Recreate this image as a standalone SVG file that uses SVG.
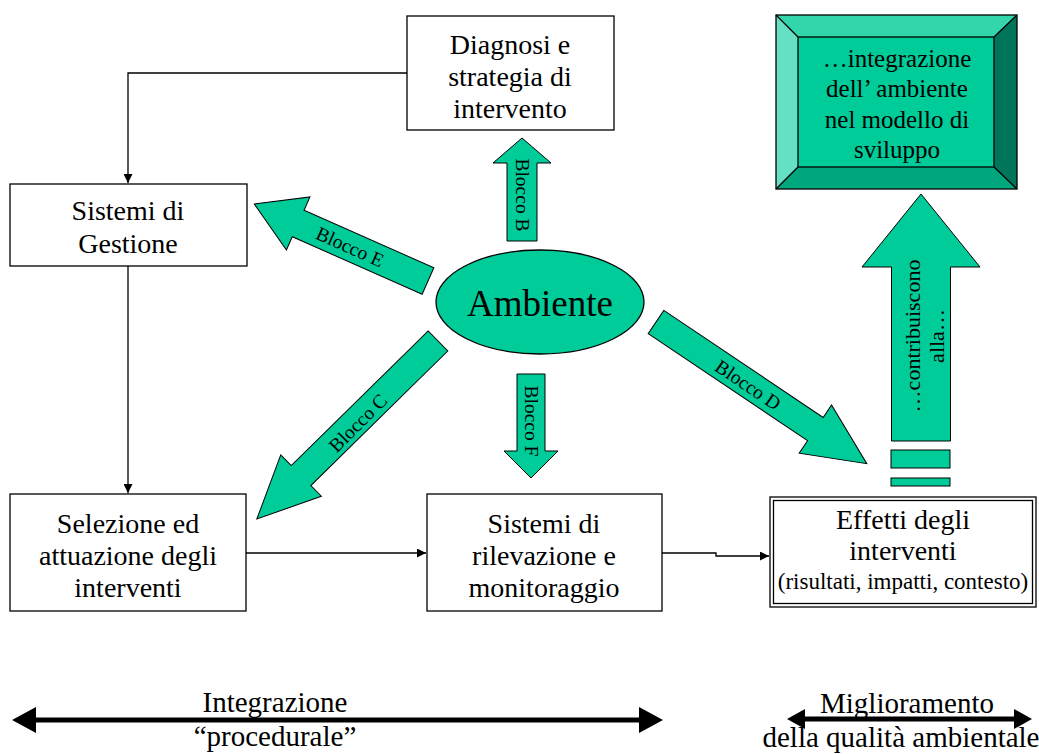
<svg xmlns="http://www.w3.org/2000/svg" width="1039" height="754" viewBox="0 0 1039 754">
  <defs>
    <style>
      text { font-family: "Liberation Serif", "Times New Roman", serif; fill: #000; }
      .box { fill: #fff; stroke: #000; stroke-width: 1.3; }
      .node { font-size: 28px; text-anchor: middle; }
      .small { font-size: 23px; text-anchor: middle; }
      .goal { font-size: 25px; text-anchor: middle; }
      .blk { font-size: 19.5px; text-anchor: middle; }
      .big { font-size: 22px; text-anchor: middle; }
      .axis { font-size: 29px; text-anchor: middle; }
      .garrow { fill: #00CC99; stroke: #000; stroke-width: 1; }
      .conn { fill: none; stroke: #000; stroke-width: 1.3; }
      .bar { fill: none; stroke: #000; stroke-width: 5; }
    </style>
    <marker id="tri" viewBox="0 0 10 10" refX="10" refY="5" markerWidth="9" markerHeight="9" markerUnits="userSpaceOnUse" orient="auto">
      <path d="M0,0 L10,5 L0,10 Z" fill="#000"/>
    </marker>
  </defs>

  <rect width="1039" height="754" fill="#fff"/>

  <!-- process connectors -->
  <g id="connectors">
    <polyline class="conn" points="407,73 128,73 128,183" marker-end="url(#tri)"/>
    <line class="conn" x1="128" y1="266" x2="128" y2="493" marker-end="url(#tri)"/>
    <line class="conn" x1="246" y1="553" x2="426" y2="553" marker-end="url(#tri)"/>
    <polyline class="conn" points="662,553 716,553 716,556 769,556" marker-end="url(#tri)"/>
  </g>

  <!-- process boxes -->
  <g id="diagnosi">
    <rect class="box" x="407" y="16" width="207" height="114"/>
    <text class="node" x="510" y="54">Diagnosi e</text>
    <text class="node" x="510" y="86">strategia di</text>
    <text class="node" x="510" y="118">intervento</text>
  </g>

  <g id="gestione">
    <rect class="box" x="10" y="184" width="237" height="82"/>
    <text class="node" x="128" y="220">Sistemi di</text>
    <text class="node" x="128" y="253">Gestione</text>
  </g>

  <g id="selezione">
    <rect class="box" x="10" y="494" width="236" height="117"/>
    <text class="node" x="128" y="533">Selezione ed</text>
    <text class="node" x="128" y="565">attuazione degli</text>
    <text class="node" x="128" y="597">interventi</text>
  </g>

  <g id="rilevazione">
    <rect class="box" x="427" y="494" width="235" height="117"/>
    <text class="node" x="544" y="533">Sistemi di</text>
    <text class="node" x="544" y="565">rilevazione e</text>
    <text class="node" x="544" y="597">monitoraggio</text>
  </g>

  <g id="effetti">
    <rect class="box" x="770" y="497" width="266" height="110"/>
    <rect class="box" x="773.5" y="500.5" width="259" height="103"/>
    <text class="node" x="903" y="529">Effetti degli</text>
    <text class="node" x="903" y="560">interventi</text>
    <text class="small" x="903" y="589">(risultati, impatti, contesto)</text>
  </g>

  <!-- bevelled goal box -->
  <g id="integrazione">
    <rect x="798" y="37" width="196" height="130" fill="#00CC99"/>
    <polygon points="776,15 1017,15 994,37 798,37" fill="#33D6AA"/>
    <polygon points="776,15 798,37 798,167 776,189" fill="#66E0C4"/>
    <polygon points="1017,15 1017,189 994,167 994,37" fill="#00755A"/>
    <polygon points="776,189 798,167 994,167 1017,189" fill="#00A67D"/>
    <g fill="none" stroke="#000" stroke-width="1.3">
      <rect x="776" y="15" width="241" height="174"/>
      <rect x="798" y="37" width="196" height="130"/>
      <path d="M776,15 L798,37 M1017,15 L994,37 M776,189 L798,167 M1017,189 L994,167"/>
    </g>
    <text class="goal" x="897" y="67">…integrazione</text>
    <text class="goal" x="897" y="97">dell’ ambiente</text>
    <text class="goal" x="897" y="128">nel modello di</text>
    <text class="goal" x="897" y="158">sviluppo</text>
  </g>

  <!-- central ellipse -->
  <g id="ambiente">
    <ellipse cx="540" cy="302" rx="104" ry="52" fill="#00CC99" stroke="#000" stroke-width="1.3"/>
    <text x="540" y="316" font-size="37" text-anchor="middle">Ambiente</text>
  </g>

  <!-- block arrows (local frame: tail at origin, pointing +x) -->
  <g id="blocco-b">
    <path class="garrow" transform="translate(522,241) rotate(-90)" d="M0,-15 L78,-15 L78,-29 L103,0 L78,29 L78,15 L0,15 Z"/>
    <text class="blk" transform="translate(522,195) rotate(90)" y="6.5">Blocco B</text>
  </g>
  <g id="blocco-f">
    <path class="garrow" transform="translate(531,374) rotate(90)" d="M0,-14 L77,-14 L77,-27 L104,0 L77,27 L77,14 L0,14 Z"/>
    <text class="blk" transform="translate(531,421) rotate(90)" y="6.5">Blocco F</text>
  </g>
  <g id="blocco-e">
    <path class="garrow" transform="translate(428,281) rotate(203.9)" d="M0,-14.5 L142,-14.5 L142,-29 L190,0 L142,29 L142,14.5 L0,14.5 Z"/>
    <text class="blk" transform="translate(350,247) rotate(24)" y="6.5">Blocco E</text>
  </g>
  <g id="blocco-c">
    <path class="garrow" transform="translate(438,341) rotate(135.5)" d="M0,-14 L192,-14 L192,-29 L254,0 L192,29 L192,14 L0,14 Z"/>
    <text class="blk" transform="translate(358,423) rotate(-45)" y="6.5">Blocco C</text>
  </g>
  <g id="blocco-d">
    <path class="garrow" transform="translate(656,322) rotate(33.9)" d="M0,-14 L192,-14 L192,-29 L254,0 L192,29 L192,14 L0,14 Z"/>
    <text class="blk" transform="translate(748,385) rotate(34)" y="6.5">Blocco D</text>
  </g>

  <!-- large upward arrow with its base dashes -->
  <g id="contribuiscono">
    <path class="garrow" transform="translate(921,441) rotate(-90)" d="M0,-29.5 L174,-29.5 L174,-59 L247,0 L174,59 L174,29.5 L0,29.5 Z"/>
    <rect class="garrow" x="891" y="450" width="59" height="18"/>
    <rect class="garrow" x="891" y="478" width="59" height="8"/>
    <g transform="translate(921,336) rotate(-90)">
      <text class="big" x="0" y="-1">…contribuiscono</text>
      <text class="big" x="0" y="23">alla…</text>
    </g>
  </g>

  <!-- bottom axes -->
  <g id="asse-procedurale">
    <line class="bar" x1="32" y1="720" x2="643" y2="720"/>
    <polygon points="12,720 36,707 36,733" fill="#000"/>
    <polygon points="663,720 639,707 639,733" fill="#000"/>
    <text class="axis" x="275" y="712" font-size="31">Integrazione</text>
    <text class="axis" x="275" y="746" font-size="30">“procedurale”</text>
  </g>

  <g id="asse-qualita">
    <line class="bar" x1="800" y1="719" x2="1019" y2="719"/>
    <polygon points="787,719 805,709 805,729" fill="#000"/>
    <polygon points="1032,719 1014,709 1014,729" fill="#000"/>
    <text class="axis" x="907" y="713">Miglioramento</text>
    <text class="axis" x="901" y="747" font-size="27.8">della qualità ambientale</text>
  </g>
</svg>
